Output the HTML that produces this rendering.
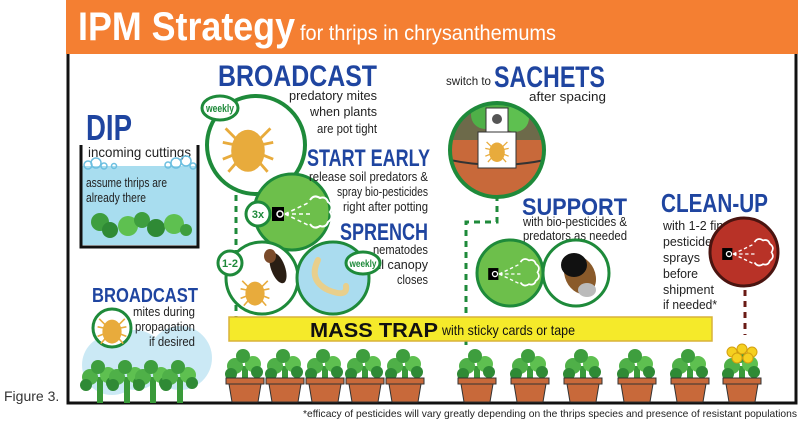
<!DOCTYPE html>
<html><head><meta charset="utf-8"><style>
html,body{margin:0;padding:0;background:#fff;}
svg{display:block;font-family:"Liberation Sans",sans-serif;}
.b{fill:#1f45a0;font-weight:bold;}
.t{fill:#222;font-size:12.5px;}
</style></head><body>
<svg width="800" height="424" viewBox="0 0 800 424" xmlns="http://www.w3.org/2000/svg">
<defs>
<g id="mite">
 <g stroke="#e8ab3c" stroke-width="2" fill="none">
  <path d="M-8,-6 L-16,-14 M-8,-2 L-18,-4 M-8,4 L-18,8 M-7,9 L-14,17 M8,-6 L16,-14 M8,-2 L18,-4 M8,4 L18,8 M7,9 L14,17"/>
 </g>
 <ellipse cx="0" cy="2" rx="12" ry="15" fill="#e8ab3c"/>
</g>
<g id="plant">
 <rect x="-3" y="-8" width="6" height="26" fill="#3a9a3a"/>
 <circle cx="-10" cy="-8" r="8" fill="#4fb048"/>
 <circle cx="8" cy="-10" r="8" fill="#5ec050"/>
 <circle cx="-2" cy="-18" r="7" fill="#3e9e3e"/>
 <circle cx="12" cy="-2" r="6" fill="#2f8a35"/>
 <circle cx="-14" cy="0" r="6" fill="#2f8a35"/>
</g>
<g id="pot">
 <g transform="translate(0,-4)"><use href="#plant"/></g>
 <rect x="-19" y="0" width="38" height="6" fill="#c8693a" stroke="#333" stroke-width="1"/>
 <path d="M-16,6 L16,6 L13,24 L-13,24 Z" fill="#c8693a" stroke="#333" stroke-width="1"/>
</g>
<g id="spray">
 <rect x="-8" y="-7" width="12" height="14" fill="#000"/>
 <circle cx="0" cy="0" r="3" fill="none" stroke="#fff" stroke-width="1.5"/>
 <g stroke="#fff" stroke-width="1.6" stroke-dasharray="4,3" fill="none">
  <path d="M5,0 L30,-12 M5,0 L30,0 M5,0 L30,12"/>
 </g>
 <path d="M30,-14 q4,-6 10,-2 q6,-2 8,4 q6,4 2,10 q4,6 -2,10 q-2,6 -8,4 q-6,4 -10,-2" fill="none" stroke="#fff" stroke-width="2"/>
</g>
</defs>

<!-- header -->
<rect x="66" y="0" width="732" height="54" fill="#f47f32"/>
<text x="78" y="40" fill="#fff" font-size="40" font-weight="bold" textLength="217" lengthAdjust="spacingAndGlyphs">IPM Strategy</text>
<text x="300" y="40" fill="#fff" font-size="21" textLength="256" lengthAdjust="spacingAndGlyphs">for thrips in chrysanthemums</text>

<!-- frame -->
<path d="M68,54 L68,403 L796,403 L796,54" fill="none" stroke="#111" stroke-width="3"/>

<text x="4" y="401" font-size="14" fill="#333">Figure 3.</text>
<text x="797" y="417" font-size="10.5" fill="#222" text-anchor="end" textLength="494" lengthAdjust="spacingAndGlyphs">*efficacy of pesticides will vary greatly depending on the thrips species and presence of resistant populations</text>

<!-- DIP -->
<text x="86" y="140" class="b" font-size="36" textLength="46" lengthAdjust="spacingAndGlyphs">DIP</text>
<text x="88" y="157" font-size="14" fill="#222" textLength="103" lengthAdjust="spacingAndGlyphs">incoming cuttings</text>
<rect x="81" y="166" width="117" height="79" fill="#a8ddef"/>
<g fill="none" stroke="#6cbfe0" stroke-width="1.5">
<circle cx="88" cy="165" r="4"/><circle cx="96" cy="163" r="5"/><circle cx="104" cy="166" r="3"/><circle cx="114" cy="166" r="2.5"/>
<circle cx="168" cy="165" r="3"/><circle cx="176" cy="163" r="5"/><circle cx="186" cy="161" r="5"/><circle cx="193" cy="166" r="3"/>
</g>
<path d="M81,145 L81,247 L198,247 L198,145" fill="none" stroke="#111" stroke-width="3"/>
<text x="86" y="187" class="t" textLength="81" lengthAdjust="spacingAndGlyphs">assume thrips are</text>
<text x="86" y="202" class="t" textLength="60" lengthAdjust="spacingAndGlyphs">already there</text>
<g fill="#3e9e3e">
<circle cx="100" cy="222" r="9"/><circle cx="110" cy="230" r="8" fill="#2f8a35"/><circle cx="128" cy="226" r="10" fill="#5ec050"/><circle cx="142" cy="220" r="8"/><circle cx="156" cy="228" r="9" fill="#2f8a35"/><circle cx="174" cy="224" r="10" fill="#5ec050"/><circle cx="186" cy="230" r="6"/>
</g>

<!-- BROADCAST top -->
<text x="218" y="86" class="b" font-size="30" textLength="159" lengthAdjust="spacingAndGlyphs">BROADCAST</text>
<g class="t" text-anchor="end" font-size="13">
<text x="377" y="100" textLength="88" lengthAdjust="spacingAndGlyphs">predatory mites</text>
<text x="377" y="116" textLength="67" lengthAdjust="spacingAndGlyphs">when plants</text>
<text x="377" y="133" textLength="60" lengthAdjust="spacingAndGlyphs">are pot tight</text></g>
<path d="M236,195 L236,340" stroke="#1e8a3a" stroke-width="3" stroke-dasharray="6,5"/>
<circle cx="256" cy="145" r="49" fill="#fff" stroke="#1e8a3a" stroke-width="4"/>
<g transform="translate(248,148) scale(1.4)"><use href="#mite"/></g>
<ellipse cx="220" cy="108" rx="18" ry="12" fill="#fff" stroke="#1e8a3a" stroke-width="3"/>
<text x="220" y="112" text-anchor="middle" font-size="11" font-weight="bold" fill="#1e8a3a" textLength="28" lengthAdjust="spacingAndGlyphs">weekly</text>

<!-- START EARLY -->
<circle cx="292" cy="212" r="38" fill="#6dbf4b" stroke="#1e8a3a" stroke-width="3"/>
<text x="307" y="166" class="b" font-size="24" textLength="123" lengthAdjust="spacingAndGlyphs">START EARLY</text>
<g class="t" text-anchor="end" font-size="12">
<text x="428" y="181" textLength="119" lengthAdjust="spacingAndGlyphs">release soil predators &amp;</text>
<text x="428" y="196" textLength="91" lengthAdjust="spacingAndGlyphs">spray bio-pesticides</text>
<text x="428" y="211" textLength="85" lengthAdjust="spacingAndGlyphs">right after potting</text></g>
<g transform="translate(280,214)"><use href="#spray"/></g>
<circle cx="258" cy="214" r="12" fill="#fff" stroke="#1e8a3a" stroke-width="3"/>
<text x="258" y="218" text-anchor="middle" font-size="11" font-weight="bold" fill="#1e8a3a">3x</text>

<!-- SPRENCH -->
<circle cx="262" cy="278" r="36" fill="#fff" stroke="#1e8a3a" stroke-width="3"/>
<circle cx="333" cy="278" r="36" fill="#aadcef" stroke="#1e8a3a" stroke-width="3"/>
<text x="340" y="240" class="b" font-size="24" textLength="88" lengthAdjust="spacingAndGlyphs">SPRENCH</text>
<g class="t" text-anchor="end" font-size="12">
<text x="428" y="254" textLength="55" lengthAdjust="spacingAndGlyphs">nematodes</text>
<text x="428" y="269" textLength="53" lengthAdjust="spacingAndGlyphs">til canopy</text>
<text x="428" y="284" textLength="31" lengthAdjust="spacingAndGlyphs">closes</text></g>
<g transform="translate(255,292) scale(0.8)"><use href="#mite"/></g>
<ellipse cx="278" cy="268" rx="7" ry="16" fill="#2a1e14" transform="rotate(-20 278 268)"/>
<ellipse cx="270" cy="256" rx="6" ry="7" fill="#7a4a2a"/>
<path d="M318,260 q-10,20 10,30 q20,8 18,-4" fill="none" stroke="#e8cf8c" stroke-width="6" stroke-linecap="round"/>
<circle cx="230" cy="263" r="12" fill="#fff" stroke="#1e8a3a" stroke-width="3"/>
<text x="230" y="267" text-anchor="middle" font-size="11" font-weight="bold" fill="#1e8a3a">1-2</text>
<ellipse cx="363" cy="263" rx="17" ry="11" fill="#fff" stroke="#1e8a3a" stroke-width="3"/>
<text x="363" y="267" text-anchor="middle" font-size="10" font-weight="bold" fill="#1e8a3a" textLength="27" lengthAdjust="spacingAndGlyphs">weekly</text>

<!-- bottom left BROADCAST -->
<g fill="#aadcef" opacity="0.6"><circle cx="112" cy="365" r="30"/><circle cx="135" cy="360" r="30"/><circle cx="180" cy="358" r="32"/></g>
<text x="92" y="302" class="b" font-size="20" textLength="106" lengthAdjust="spacingAndGlyphs">BROADCAST</text>
<circle cx="112" cy="328" r="19" fill="#fff" stroke="#1e8a3a" stroke-width="3"/>
<g transform="translate(112,330) scale(0.8)"><use href="#mite"/></g>
<g class="t" text-anchor="end" font-size="12.5">
<text x="195" y="316" textLength="62" lengthAdjust="spacingAndGlyphs">mites during</text>
<text x="195" y="331" textLength="60" lengthAdjust="spacingAndGlyphs">propagation</text>
<text x="195" y="346" textLength="46" lengthAdjust="spacingAndGlyphs">if desired</text></g>
<g transform="translate(100,385)"><use href="#plant"/></g>
<g transform="translate(127,385)"><use href="#plant"/></g>
<g transform="translate(153,385)"><use href="#plant"/></g>
<g transform="translate(180,385)"><use href="#plant"/></g>

<!-- SACHETS -->
<text x="446" y="85" font-size="12" fill="#222" textLength="45" lengthAdjust="spacingAndGlyphs">switch to</text>
<text x="494" y="87" class="b" font-size="30" textLength="111" lengthAdjust="spacingAndGlyphs">SACHETS</text>
<text x="606" y="101" text-anchor="end" class="t" font-size="13" textLength="77" lengthAdjust="spacingAndGlyphs">after spacing</text>
<path d="M497,195 L497,222 L466,222 L466,345" fill="none" stroke="#1e8a3a" stroke-width="3" stroke-dasharray="6,5"/>
<clipPath id="sc"><circle cx="497" cy="150" r="47"/></clipPath>
<g clip-path="url(#sc)">
<rect x="450" y="100" width="95" height="100" fill="#6d6a4a"/>
<rect x="450" y="140" width="95" height="60" fill="#c8693a"/>
<path d="M450,160 q47,10 95,0" stroke="#333" stroke-width="2" fill="none"/>
<circle cx="485" cy="115" r="14" fill="#4fb048"/><circle cx="515" cy="118" r="14" fill="#5ec050"/><circle cx="500" cy="104" r="10" fill="#4fb048"/>
</g>
<circle cx="497" cy="150" r="47" fill="none" stroke="#1e8a3a" stroke-width="4"/>
<rect x="486" y="108" width="22" height="24" fill="#fff" stroke="#333"/>
<circle cx="497" cy="119" r="5" fill="#555"/>
<rect x="478" y="132" width="38" height="36" fill="#fff" stroke="#333"/>
<g transform="translate(497,151) scale(0.65)"><use href="#mite"/></g>

<!-- SUPPORT -->
<text x="522" y="215" class="b" font-size="24" textLength="105" lengthAdjust="spacingAndGlyphs">SUPPORT</text>
<g class="t" font-size="12">
<text x="523" y="226" textLength="104" lengthAdjust="spacingAndGlyphs">with bio-pesticides &amp;</text>
<text x="523" y="240" textLength="104" lengthAdjust="spacingAndGlyphs">predators as needed</text></g>
<circle cx="510" cy="273" r="33" fill="#6dbf4b" stroke="#1e8a3a" stroke-width="3"/>
<g transform="translate(495,274) scale(0.85)"><use href="#spray"/></g>
<circle cx="576" cy="273" r="33" fill="#fff" stroke="#1e8a3a" stroke-width="3"/>
<ellipse cx="580" cy="275" rx="15" ry="20" fill="#8a5a2a" transform="rotate(-25 580 275)"/>
<ellipse cx="574" cy="265" rx="13" ry="12" fill="#111"/>
<ellipse cx="587" cy="290" rx="9" ry="7" fill="#bbb"/>

<!-- CLEAN-UP -->
<text x="661" y="212" class="b" font-size="26" textLength="107" lengthAdjust="spacingAndGlyphs">CLEAN-UP</text>
<g class="t" font-size="13.5">
<text x="663" y="230" textLength="70" lengthAdjust="spacingAndGlyphs">with 1-2 final</text>
<text x="663" y="246" textLength="49" lengthAdjust="spacingAndGlyphs">pesticide</text>
<text x="663" y="262" textLength="37" lengthAdjust="spacingAndGlyphs">sprays</text>
<text x="663" y="278" textLength="35" lengthAdjust="spacingAndGlyphs">before</text>
<text x="663" y="294" textLength="51" lengthAdjust="spacingAndGlyphs">shipment</text>
<text x="663" y="309" textLength="54" lengthAdjust="spacingAndGlyphs">if needed*</text></g>
<path d="M745,290 L745,335" stroke="#6a1a14" stroke-width="3" stroke-dasharray="6,5"/>
<circle cx="744" cy="252" r="34" fill="#b83227" stroke="#4a1410" stroke-width="3"/>
<g transform="translate(729,254) scale(0.85)"><use href="#spray"/></g>

<!-- MASS TRAP -->
<rect x="229" y="317" width="483" height="24" fill="#f5ea2a" stroke="#d8b23a" stroke-width="1.5"/>
<text x="310" y="337" font-size="20" font-weight="bold" fill="#111" textLength="128" lengthAdjust="spacingAndGlyphs">MASS TRAP</text>
<text x="442" y="335" font-size="14" fill="#111" textLength="133" lengthAdjust="spacingAndGlyphs">with sticky cards or tape</text>

<!-- pots -->
<g transform="translate(0,378)">
<use href="#pot" x="245"/><use href="#pot" x="285"/><use href="#pot" x="325"/><use href="#pot" x="365"/><use href="#pot" x="405"/>
<use href="#pot" x="477"/><use href="#pot" x="530"/><use href="#pot" x="583"/><use href="#pot" x="637"/><use href="#pot" x="690"/><use href="#pot" x="742"/>
</g>
<g fill="#f5d020" stroke="#d4a010" stroke-width="1"><circle cx="732" cy="352" r="5"/><circle cx="742" cy="349" r="5"/><circle cx="752" cy="352" r="5"/><circle cx="737" cy="358" r="5"/><circle cx="748" cy="358" r="5"/></g>
</svg>
</body></html>
